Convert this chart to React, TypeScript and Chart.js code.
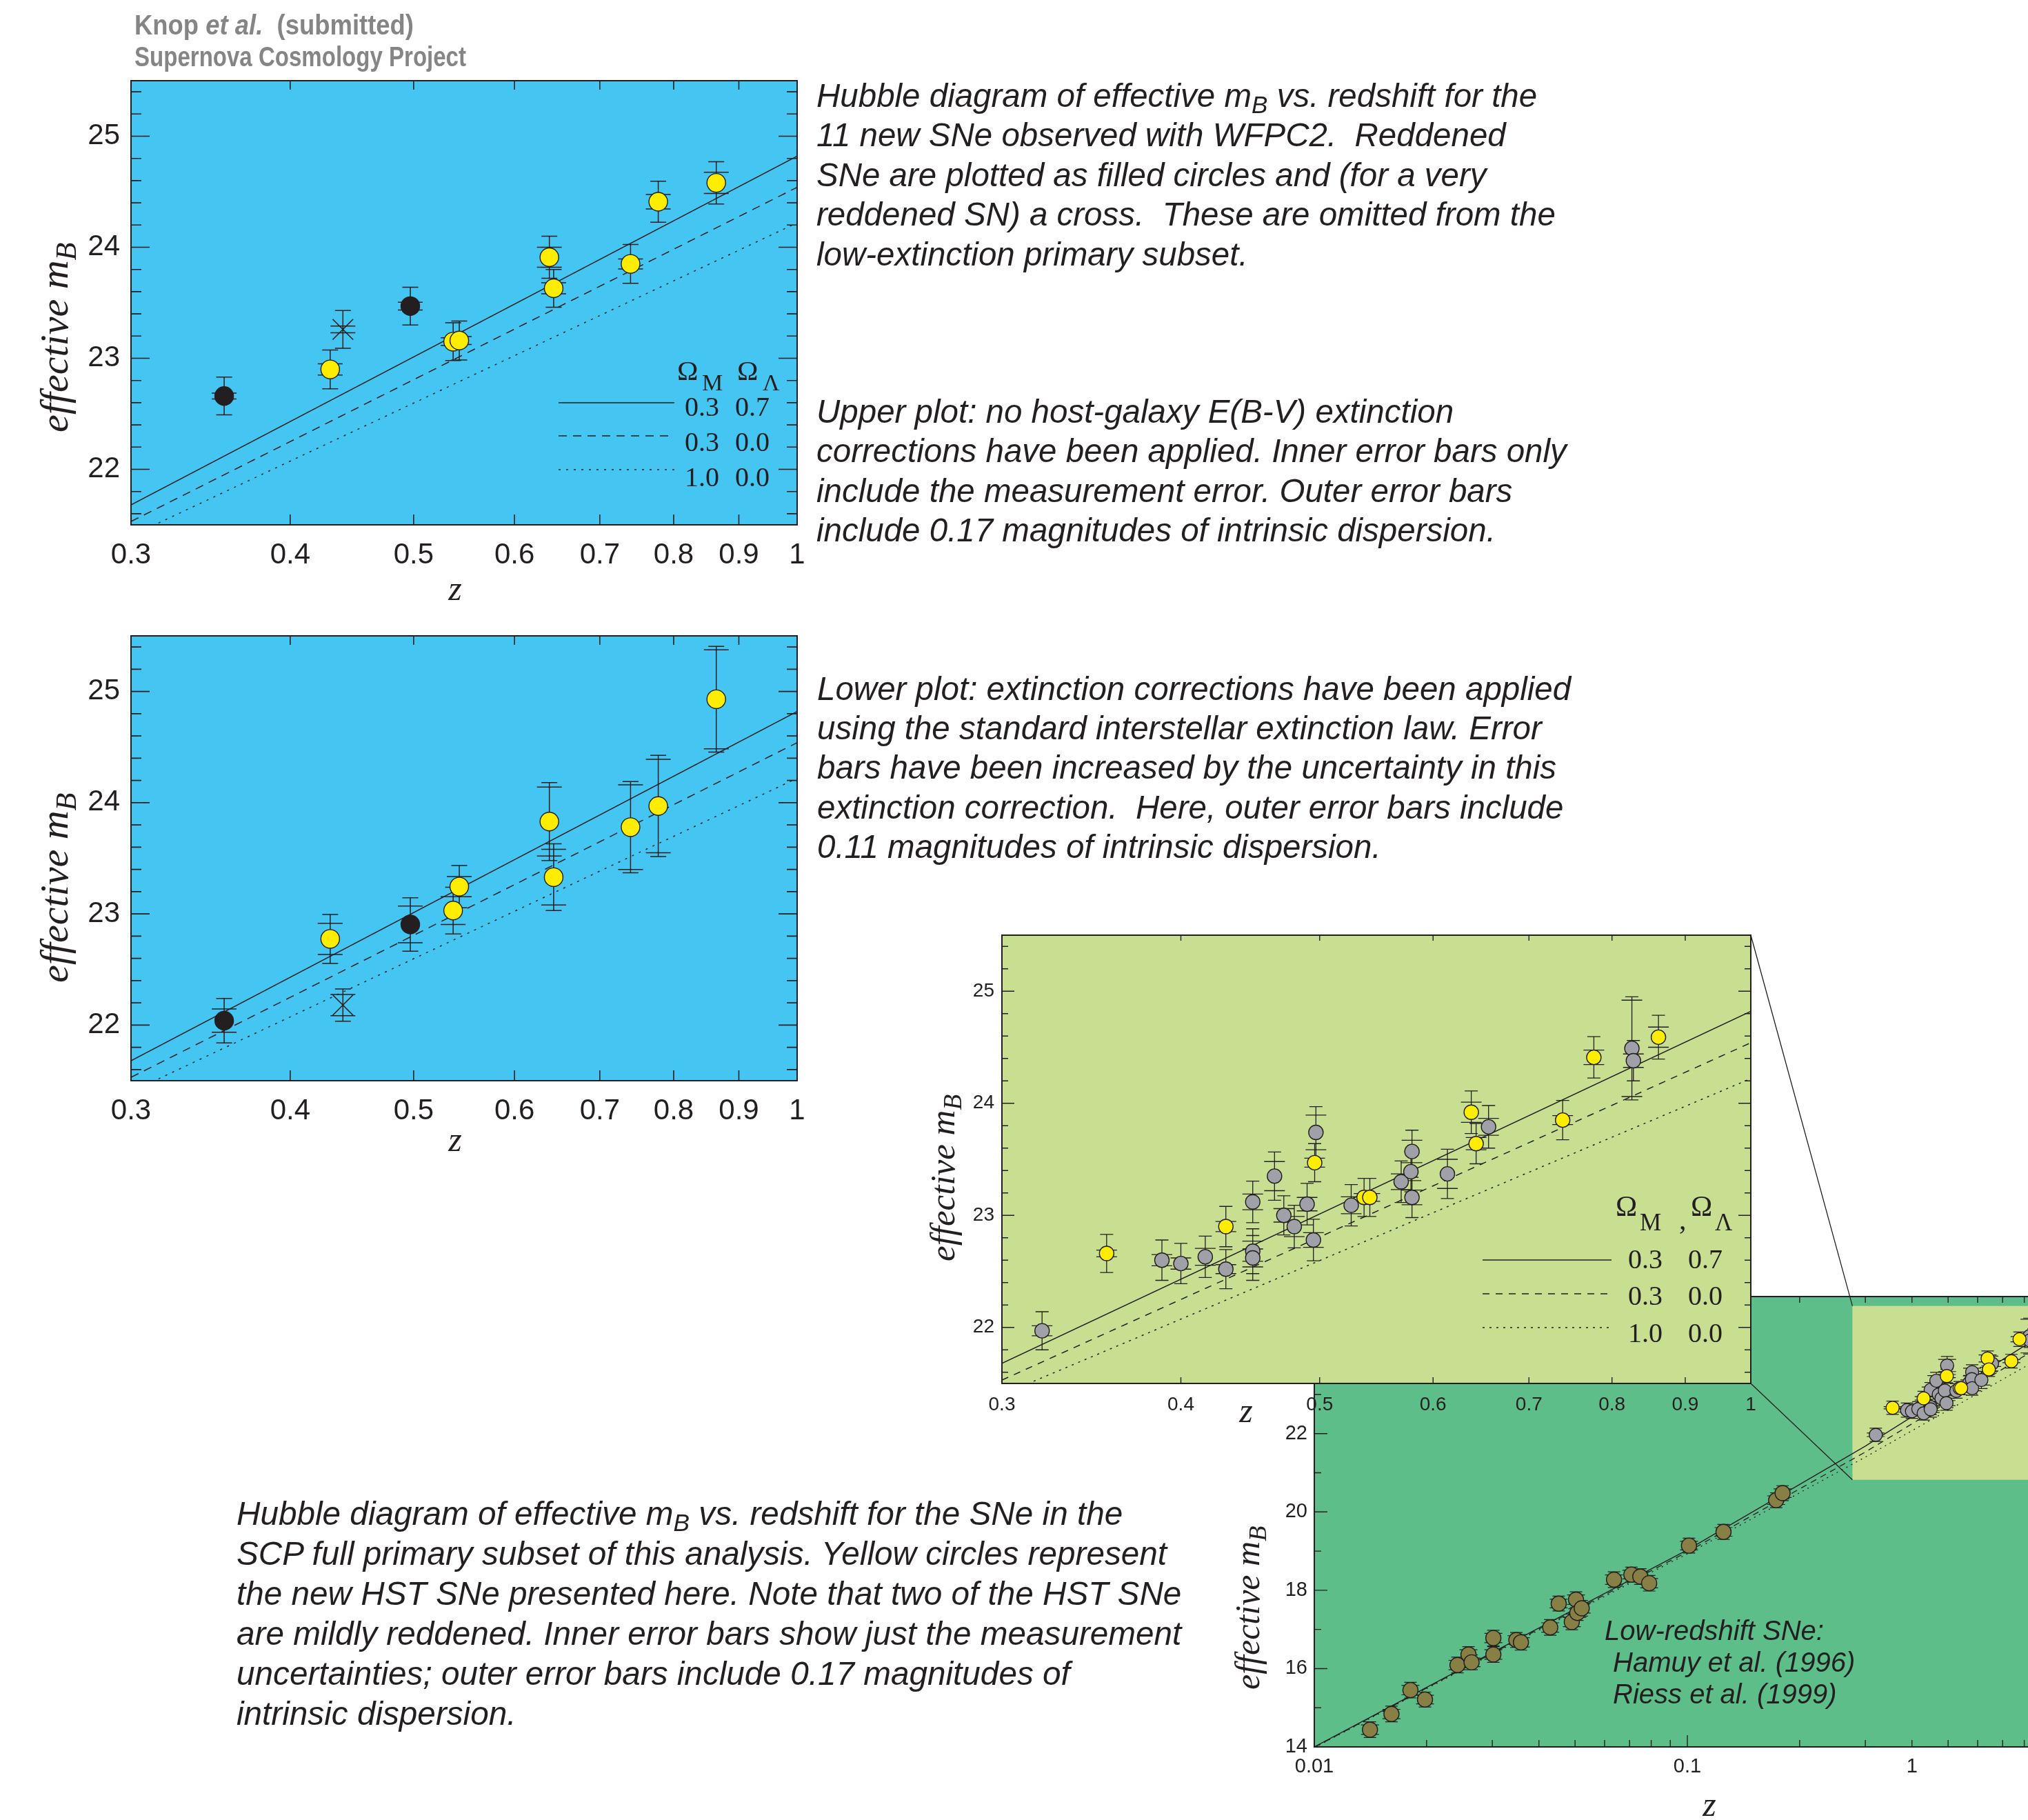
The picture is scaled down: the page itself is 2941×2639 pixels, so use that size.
import React, { useEffect, useRef } from 'react';
import { Chart, registerables } from 'chart.js';

Chart.register(...registerables);

const INK = '#231f20';
const SANS = '"Liberation Sans", Arial, Helvetica, sans-serif';
const SERIF = '"Liberation Serif", "Times New Roman", Times, serif';

const BLUE_BG = '#45c5f1';
const INSET_BG = '#c8de91';
const GREEN_BG = '#5ebe89';
const YELLOW = '#ffed00';
const BLACK_FILL = '#231f20';
const GRAY = '#a0a1a8';
const BROWN = '#877f43';

// ---------------- 11 new WFPC2 SNe (upper & lower panels) ----------------
const wfpcZ = [0.355, 0.43, 0.44, 0.497, 0.537, 0.543, 0.639, 0.644, 0.74, 0.778, 0.864];
const wfpcKind = ['reddened', 'normal', 'very', 'reddened', 'normal', 'normal', 'normal', 'normal', 'normal', 'normal', 'normal'];
const upperM = [22.66, 22.9, 23.26, 23.47, 23.15, 23.16, 23.91, 23.63, 23.85, 24.41, 24.58];
const upperInnerErr = [0.027, 0.05, 0.03, 0.035, 0.035, 0.035, 0.09, 0.05, 0.045, 0.065, 0.095];
const upperOuterErr = [0.17, 0.175, 0.17, 0.17, 0.17, 0.175, 0.19, 0.17, 0.175, 0.185, 0.19];
const lowerM = [22.04, 22.775, 22.18, 22.905, 23.03, 23.245, 23.83, 23.33, 23.78, 23.97, 24.93];
const lowerInnerErr = [0.105, 0.14, 0.095, 0.165, 0.125, 0.09, 0.31, 0.25, 0.38, 0.42, 0.445];
const lowerOuterErr = [0.2, 0.22, 0.145, 0.24, 0.21, 0.19, 0.35, 0.3, 0.41, 0.455, 0.475];

// ---------------- SCP full primary subset ----------------
const hstZ = [0.355, 0.43, 0.496, 0.537, 0.542, 0.638, 0.643, 0.739, 0.777, 0.862];
const hstM = [22.66, 22.9, 23.47, 23.16, 23.16, 23.92, 23.64, 23.85, 24.41, 24.59];
const hstInnerErr = [0.03, 0.045, 0.04, 0.035, 0.035, 0.09, 0.055, 0.04, 0.065, 0.09];
const hstOuterErr = [0.17, 0.18, 0.17, 0.17, 0.17, 0.19, 0.18, 0.175, 0.185, 0.195];

const scpZ = [0.32, 0.388, 0.4, 0.416, 0.43, 0.449, 0.449, 0.449, 0.465, 0.472, 0.48, 0.49, 0.495, 0.497, 0.526, 0.57, 0.58, 0.579, 0.58, 0.614, 0.656, 0.826, 0.828];
const scpM = [21.97, 22.6, 22.57, 22.63, 22.52, 23.12, 22.68, 22.62, 23.35, 23.0, 22.9, 23.1, 22.78, 23.74, 23.09, 23.3, 23.57, 23.39, 23.16, 23.37, 23.79, 24.49, 24.38];
const scpInnerErr = [0.045, 0.05, 0.05, 0.075, 0.04, 0.07, 0.09, 0.08, 0.13, 0.06, 0.09, 0.06, 0.065, 0.155, 0.075, 0.07, 0.1, 0.08, 0.065, 0.13, 0.075, 0.43, 0.06];
const scpOuterErr = [0.17, 0.18, 0.18, 0.185, 0.175, 0.185, 0.2, 0.2, 0.215, 0.175, 0.19, 0.185, 0.185, 0.23, 0.185, 0.185, 0.19, 0.18, 0.18, 0.22, 0.19, 0.46, 0.18];

// ---------------- Low-redshift SNe (Hamuy 1996, Riess 1999) ----------------
const lowZ = [0.0141, 0.0161, 0.0181, 0.0198, 0.0242, 0.0259, 0.0264, 0.0302, 0.0302, 0.0348, 0.0358, 0.0429, 0.0452, 0.049, 0.0503, 0.0507, 0.0521, 0.0636, 0.0708, 0.0748, 0.079, 0.101, 0.125, 0.173, 0.18];
const lowM = [14.44, 14.84, 15.45, 15.21, 16.09, 16.36, 16.16, 16.78, 16.36, 16.73, 16.67, 17.05, 17.66, 17.19, 17.76, 17.42, 17.54, 18.27, 18.4, 18.35, 18.18, 19.14, 19.49, 20.3, 20.48];
const lowInnerErr = [0.12, 0.12, 0.12, 0.11, 0.12, 0.12, 0.11, 0.12, 0.12, 0.11, 0.12, 0.12, 0.11, 0.12, 0.12, 0.11, 0.12, 0.12, 0.11, 0.12, 0.12, 0.11, 0.11, 0.11, 0.11];
const lowOuterErr = [0.2, 0.2, 0.2, 0.19, 0.2, 0.2, 0.19, 0.2, 0.2, 0.19, 0.2, 0.2, 0.19, 0.2, 0.2, 0.19, 0.2, 0.2, 0.19, 0.2, 0.2, 0.19, 0.19, 0.19, 0.19];

// ---------------- Cosmology curves ----------------
const curveZ = [0.3, 1.0];
const curveLambda = [21.68, 24.82]; // OmegaM 0.3, OmegaL 0.7
const curveOpen = [21.53, 24.54]; // 0.3, 0.0
const curveEdS = [21.4, 24.22]; // 1.0, 0.0
const wideCurveZ = [0.01, 0.03, 0.1, 0.3, 1.0];
const wideCurveLambda = [14.0, 16.41, 19.03, 21.68, 24.82];
const wideCurveOpen = [13.99, 16.39, 18.98, 21.53, 24.54];
const wideCurveEdS = [13.98, 16.37, 18.93, 21.4, 24.22];

// ---------------- Axes ----------------
const zTicks = [0.3, 0.4, 0.5, 0.6, 0.7, 0.8, 0.9, 1];
const zTickLabels = ['0.3', '0.4', '0.5', '0.6', '0.7', '0.8', '0.9', '1'];
const mTicks = [22, 23, 24, 25];
const wideZTicks = [0.01, 0.02, 0.03, 0.04, 0.05, 0.06, 0.07, 0.08, 0.09, 0.1, 0.2, 0.3, 0.4, 0.5, 0.6, 0.7, 0.8, 0.9, 1];
const wideZTickLabels = ['0.01', '', '', '', '', '', '', '', '', '0.1', '', '', '1', '', '', '', '', '', ''];
const wideMTicks = [14, 16, 18, 20, 22, 24];
const zoomBoxZ = [0.277, 1.0];
const zoomBoxM = [20.82, 25.26];

// ---------------- Layout (page pixels) ----------------
const UPPER_BOX = { left: 90, top: 90, w: 1110, h: 760 };
const LOWER_BOX = { left: 90, top: 895, w: 1110, h: 760 };
const INSET_BOX = { left: 1350, top: 1330, w: 1230, h: 730 };
const GREEN_BOX = { left: 1800, top: 1300, w: 1240, h: 1300 };

function minorValues(min: number, max: number, step: number, majors: number[]) {
  const out: number[] = [];
  const n0 = Math.ceil(min / step - 1e-9);
  const n1 = Math.floor(max / step + 1e-9);
  for (let n = n0; n <= n1; n++) {
    const v = +(n * step).toFixed(6);
    if (!majors.some((mj) => Math.abs(mj - v) < 1e-6)) out.push(v);
  }
  return out;
}

function pts(z: number[], m: number[]) {
  return z.map((v, i) => ({ x: v, y: m[i] }));
}

function curveDatasets(zs: number[], lam: number[], open: number[], eds: number[], dash: number[], dot: number[], lw: number) {
  const mk = (ms: number[], borderDash: number[]) => ({
    data: pts(zs, ms),
    showLine: true,
    pointRadius: 0,
    borderColor: INK,
    borderWidth: lw,
    borderDash,
    fill: false,
    order: 10,
  });
  return [mk(lam, []), mk(open, dash), mk(eds, dot)];
}

function markerDs(data: any[], color: string, r: number, order: number) {
  return {
    data,
    pointRadius: r,
    pointHoverRadius: r,
    pointBackgroundColor: color,
    pointBorderColor: INK,
    pointBorderWidth: 1.4,
    order,
  };
}

function wfpcDatasets(m: number[]) {
  const pick = (kind: string) => wfpcZ.map((z, i) => ({ x: z, y: m[i] })).filter((_, i) => wfpcKind[i] === kind);
  return [
    markerDs(pick('normal'), YELLOW, 13.5, 1),
    markerDs(pick('reddened'), BLACK_FILL, 13.5, 2),
    { data: pick('very'), pointStyle: 'crossRot', pointRadius: 21, pointBorderColor: INK, pointBorderWidth: 1.6, order: 0 },
    ...curveDatasets(curveZ, curveLambda, curveOpen, curveEdS, [12, 9], [3, 8], 1.5),
  ];
}

function buildPanel(canvas: HTMLCanvasElement, p: any) {
  const yMinor = minorValues(p.yMin, p.yMax, p.yMinorStep, p.yMajor);
  const frame = {
    id: 'panelFrame',
    beforeDraw(c: any) {
      const a = c.chartArea;
      const ctx = c.ctx;
      ctx.save();
      ctx.fillStyle = p.bg;
      ctx.fillRect(a.left, a.top, a.right - a.left, a.bottom - a.top);
      ctx.restore();
    },
    beforeDatasetsDraw(c: any) {
      if (p.beforeData) p.beforeData(c);
      const ctx = c.ctx;
      const a = c.chartArea;
      const xs = c.scales.x;
      const ys = c.scales.y;
      ctx.save();
      ctx.beginPath();
      ctx.rect(a.left, a.top, a.right - a.left, a.bottom - a.top);
      ctx.clip();
      ctx.strokeStyle = INK;
      ctx.lineWidth = p.errW;
      ctx.beginPath();
      for (const e of p.errs) {
        e.z.forEach((zv: number, i: number) => {
          const x = xs.getPixelForValue(zv);
          const oHi = ys.getPixelForValue(e.m[i] + e.outer[i]);
          const oLo = ys.getPixelForValue(e.m[i] - e.outer[i]);
          const iHi = ys.getPixelForValue(e.m[i] + e.inner[i]);
          const iLo = ys.getPixelForValue(e.m[i] - e.inner[i]);
          ctx.moveTo(x, oHi);
          ctx.lineTo(x, oLo);
          ctx.moveTo(x - e.capOut, oHi);
          ctx.lineTo(x + e.capOut, oHi);
          ctx.moveTo(x - e.capOut, oLo);
          ctx.lineTo(x + e.capOut, oLo);
          ctx.moveTo(x - e.capIn, iHi);
          ctx.lineTo(x + e.capIn, iHi);
          ctx.moveTo(x - e.capIn, iLo);
          ctx.lineTo(x + e.capIn, iLo);
        });
      }
      ctx.stroke();
      ctx.restore();
    },
    afterDatasetsDraw(c: any) {
      const ctx = c.ctx;
      const a = c.chartArea;
      const xs = c.scales.x;
      const ys = c.scales.y;
      ctx.save();
      ctx.strokeStyle = INK;
      ctx.lineWidth = p.tickW;
      ctx.beginPath();
      const yTick = (v: number, len: number) => {
        const y = ys.getPixelForValue(v);
        ctx.moveTo(a.left, y);
        ctx.lineTo(a.left + len, y);
        ctx.moveTo(a.right, y);
        ctx.lineTo(a.right - len, y);
      };
      p.yMajor.forEach((v: number) => yTick(v, p.lenYMajor));
      yMinor.forEach((v: number) => yTick(v, p.lenYMinor));
      p.xTicks.forEach((v: number) => {
        const x = xs.getPixelForValue(v);
        const len = p.xLong && p.xLong.includes(v) ? p.lenXLong : p.lenX;
        ctx.moveTo(x, a.bottom);
        ctx.lineTo(x, a.bottom - len);
        ctx.moveTo(x, a.top);
        ctx.lineTo(x, a.top + p.lenXTop);
      });
      ctx.stroke();
      ctx.lineWidth = p.frameW;
      ctx.strokeRect(a.left, a.top, a.right - a.left, a.bottom - a.top);
      ctx.restore();
      if (p.afterAll) p.afterAll(c);
    },
  };

  return new Chart(canvas, {
    type: 'scatter',
    data: { datasets: p.datasets },
    options: {
      responsive: false,
      maintainAspectRatio: false,
      animation: false,
      devicePixelRatio: 1,
      events: [],
      layout: { padding: { top: p.padTop, right: p.padRight, left: 0, bottom: 0 } },
      plugins: { legend: { display: false }, tooltip: { enabled: false } },
      scales: {
        x: {
          type: 'logarithmic',
          min: p.xMin,
          max: p.xMax,
          bounds: 'data',
          position: 'bottom',
          grid: { display: false, drawTicks: false },
          border: { display: false },
          ticks: {
            autoSkip: false,
            maxRotation: 0,
            minRotation: 0,
            padding: p.xPad,
            color: INK,
            font: { family: SANS, size: p.tickFont },
            callback: (_v: any, i: number) => p.xLabels[i] ?? '',
          },
          afterBuildTicks: (s: any) => {
            s.ticks = p.xTicks.map((v: number) => ({ value: v }));
          },
          afterFit: (s: any) => {
            s.height = p.axisH;
            s.paddingLeft = 0;
            s.paddingRight = 0;
          },
        },
        y: {
          type: 'linear',
          min: p.yMin,
          max: p.yMax,
          bounds: 'data',
          position: 'left',
          grid: { display: false, drawTicks: false },
          border: { display: false },
          ticks: {
            autoSkip: false,
            padding: p.yPad,
            color: INK,
            font: { family: SANS, size: p.tickFont },
            callback: (v: any) => String(v),
          },
          afterBuildTicks: (s: any) => {
            s.ticks = p.yMajor.map((v: number) => ({ value: v }));
          },
          afterFit: (s: any) => {
            s.width = p.axisW;
            s.paddingTop = 0;
            s.paddingBottom = 0;
          },
        },
      },
    },
    plugins: [frame],
  } as any);
}

function blueSpec(m: number[], inner: number[], outer: number[], axisH: number) {
  return {
    axisW: 100, axisH, padTop: 27, padRight: 44,
    xMin: 0.3, xMax: 1, yMin: 21.5, yMax: 25.5,
    xTicks: zTicks, xLabels: zTickLabels, yMajor: mTicks, yMinorStep: 0.2,
    tickFont: 42, xPad: 19, yPad: 16, bg: BLUE_BG,
    lenYMajor: 27, lenYMinor: 15, lenX: 15, lenXTop: 13,
    frameW: 2, tickW: 1.6, errW: 1.5,
    datasets: wfpcDatasets(m),
    errs: [{ z: wfpcZ, m, inner, outer, capIn: 18, capOut: 11.5 }],
  };
}

export default function App() {
  const upperRef = useRef<HTMLCanvasElement>(null);
  const lowerRef = useRef<HTMLCanvasElement>(null);
  const insetRef = useRef<HTMLCanvasElement>(null);
  const greenRef = useRef<HTMLCanvasElement>(null);

  useEffect(() => {
    const charts: Chart[] = [];
    charts.push(buildPanel(upperRef.current!, blueSpec(upperM, upperInnerErr, upperOuterErr, 89)));
    charts.push(buildPanel(lowerRef.current!, blueSpec(lowerM, lowerInnerErr, lowerOuterErr, 88)));

    const inset = buildPanel(insetRef.current!, {
      axisW: 103, axisH: 54, padTop: 26, padRight: 41,
      xMin: 0.3, xMax: 1, yMin: 21.5, yMax: 25.5,
      xTicks: zTicks, xLabels: zTickLabels, yMajor: mTicks, yMinorStep: 0.2,
      tickFont: 28, xPad: 14, yPad: 11, bg: INSET_BG,
      lenYMajor: 18, lenYMinor: 9, lenX: 9, lenXTop: 8,
      frameW: 2, tickW: 1.4, errW: 1.3,
      datasets: [
        markerDs(pts(hstZ, hstM), YELLOW, 10.5, 1),
        markerDs(pts(scpZ, scpM), GRAY, 10.5, 3),
        ...curveDatasets(curveZ, curveLambda, curveOpen, curveEdS, [10, 9], [3, 7], 1.5),
      ],
      errs: [
        { z: scpZ, m: scpM, inner: scpInnerErr, outer: scpOuterErr, capIn: 15, capOut: 9.5 },
        { z: hstZ, m: hstM, inner: hstInnerErr, outer: hstOuterErr, capIn: 15, capOut: 9.5 },
      ],
    });
    charts.push(inset);

    const green = buildPanel(greenRef.current!, {
      axisW: 106, axisH: 67, padTop: 580, padRight: 52,
      xMin: 0.01, xMax: 1, yMin: 14, yMax: 25.5,
      xTicks: wideZTicks, xLabels: wideZTickLabels, xLong: [0.1], yMajor: wideMTicks, yMinorStep: 1,
      tickFont: 29, xPad: 12, yPad: 10, bg: GREEN_BG,
      lenYMajor: 19, lenYMinor: 10, lenX: 10, lenXLong: 17, lenXTop: 9,
      frameW: 2, tickW: 1.4, errW: 1.2,
      datasets: [
        markerDs(pts(hstZ, hstM), YELLOW, 9.5, 1),
        markerDs(pts(scpZ, scpM), GRAY, 9.5, 3),
        markerDs(pts(lowZ, lowM), BROWN, 11, 4),
        ...curveDatasets(wideCurveZ, wideCurveLambda, wideCurveOpen, wideCurveEdS, [9, 7], [2, 6], 1.3),
      ],
      errs: [
        { z: lowZ, m: lowM, inner: lowInnerErr, outer: lowOuterErr, capIn: 13, capOut: 9 },
        { z: scpZ, m: scpM, inner: scpInnerErr, outer: scpOuterErr, capIn: 13, capOut: 9 },
        { z: hstZ, m: hstM, inner: hstInnerErr, outer: hstOuterErr, capIn: 13, capOut: 9 },
      ],
      beforeData: (c: any) => {
        const ctx = c.ctx;
        const a = c.chartArea;
        const xs = c.scales.x;
        const ys = c.scales.y;
        const x0 = xs.getPixelForValue(zoomBoxZ[0]);
        const x1 = xs.getPixelForValue(zoomBoxZ[1]);
        const y0 = ys.getPixelForValue(zoomBoxM[1]);
        const y1 = ys.getPixelForValue(zoomBoxM[0]);
        ctx.save();
        ctx.beginPath();
        ctx.rect(a.left, a.top, a.right - a.left, a.bottom - a.top);
        ctx.clip();
        ctx.fillStyle = INSET_BG;
        ctx.fillRect(x0, y0, x1 - x0, y1 - y0);
        ctx.restore();
      },
      afterAll: (c: any) => {
        const ia = inset.chartArea;
        if (!ia) return;
        const ctx = c.ctx;
        const xs = c.scales.x;
        const ys = c.scales.y;
        const dx = INSET_BOX.left - GREEN_BOX.left;
        const dy = INSET_BOX.top - GREEN_BOX.top;
        const rx = xs.getPixelForValue(zoomBoxZ[0]);
        const ryTop = ys.getPixelForValue(zoomBoxM[1]);
        const ryBot = ys.getPixelForValue(zoomBoxM[0]);
        ctx.save();
        ctx.strokeStyle = INK;
        ctx.lineWidth = 1.3;
        ctx.beginPath();
        ctx.moveTo(ia.right + dx, ia.top + dy);
        ctx.lineTo(rx, ryTop);
        ctx.moveTo(ia.right + dx, ia.bottom + dy);
        ctx.lineTo(rx, ryBot);
        ctx.stroke();
        ctx.restore();
      },
    });
    charts.push(green);

    return () => charts.forEach((c) => c.destroy());
  }, []);

  const canvasStyle = (b: any): React.CSSProperties => ({
    position: 'absolute', left: b.left, top: b.top, width: b.w, height: b.h, display: 'block',
  });

  const para = (x: number, y0: number, lh: number, size: number, lines: string[]) =>
    lines.map((ln, i) => {
      const parts = ln.split('{B}');
      return (
        <text key={i} x={x} y={y0 + i * lh} fontFamily={SANS} fontStyle="italic" fontSize={size} fill={INK} style={{ whiteSpace: 'pre' }}>
          {parts.length === 2 ? (
            <>
              {parts[0]}
              <tspan dy={9} fontSize={size * 0.74}>B</tspan>
              <tspan dy={-9}>{parts[1]}</tspan>
            </>
          ) : (
            ln
          )}
        </text>
      );
    });

  const yTitle = (x: number, y: number, size: number, key: string) => (
    <text key={key} transform={`translate(${x},${y}) rotate(-90)`} fontFamily={SERIF} fontStyle="italic" fontSize={size} fill={INK}>
      effective m<tspan dy={size * 0.2} fontSize={size * 0.73}>B</tspan>
    </text>
  );

  const zTitle = (x: number, y: number, key: string) => (
    <text key={key} x={x} y={y} textAnchor="middle" fontFamily={SERIF} fontStyle="italic" fontSize={50} fill={INK}>z</text>
  );

  const legendRow = (x1: number, x2: number, ly: number, tx1: number, tx2: number, ty: number, a: string, b: string, dash: string | undefined, key: string) => (
    <g key={key}>
      <line x1={x1} x2={x2} y1={ly} y2={ly} stroke={INK} strokeWidth={1.5} strokeDasharray={dash} />
      <text x={tx1} y={ty} fontFamily={SERIF} fontSize={40} fill={INK}>{a}</text>
      <text x={tx2} y={ty} fontFamily={SERIF} fontSize={40} fill={INK}>{b}</text>
    </g>
  );

  return (
    <div style={{ position: 'fixed', left: 0, top: 0, width: 2941, height: 2639, overflow: 'hidden', background: '#ffffff' }}>
      <canvas ref={upperRef} width={UPPER_BOX.w} height={UPPER_BOX.h} style={canvasStyle(UPPER_BOX)} />
      <canvas ref={lowerRef} width={LOWER_BOX.w} height={LOWER_BOX.h} style={canvasStyle(LOWER_BOX)} />
      <canvas ref={greenRef} width={GREEN_BOX.w} height={GREEN_BOX.h} style={canvasStyle(GREEN_BOX)} />
      <canvas ref={insetRef} width={INSET_BOX.w} height={INSET_BOX.h} style={canvasStyle(INSET_BOX)} />
      <svg width={2941} height={2639} style={{ position: 'absolute', left: 0, top: 0, pointerEvents: 'none' }}>
        <text x={195} y={50} fontFamily={SANS} fontWeight="bold" fontSize={40} fill="#858585" textLength={405} lengthAdjust="spacingAndGlyphs" style={{ whiteSpace: 'pre' }}>
          Knop <tspan fontStyle="italic">et al.</tspan>  (submitted)
        </text>
        <text x={195} y={96} fontFamily={SANS} fontWeight="bold" fontSize={40} fill="#858585" textLength={481} lengthAdjust="spacingAndGlyphs">
          Supernova Cosmology Project
        </text>

        {para(1184, 155, 57.4, 47.5, [
          'Hubble diagram of effective m{B} vs. redshift for the',
          '11 new SNe observed with WFPC2.  Reddened',
          'SNe are plotted as filled circles and (for a very',
          'reddened SN) a cross.  These are omitted from the',
          'low-extinction primary subset.',
        ])}
        {para(1184, 613, 57.4, 47.5, [
          'Upper plot: no host-galaxy E(B-V) extinction',
          'corrections have been applied. Inner error bars only',
          'include the measurement error. Outer error bars',
          'include 0.17 magnitudes of intrinsic dispersion.',
        ])}
        {para(1185, 1015, 57.2, 47.5, [
          'Lower plot: extinction corrections have been applied',
          'using the standard interstellar extinction law. Error',
          'bars have been increased by the uncertainty in this',
          'extinction correction.  Here, outer error bars include',
          '0.11 magnitudes of intrinsic dispersion.',
        ])}
        {para(343, 2211, 58, 47.7, [
          'Hubble diagram of effective m{B} vs. redshift for the SNe in the',
          'SCP full primary subset of this analysis. Yellow circles represent',
          'the new HST SNe presented here. Note that two of the HST SNe',
          'are mildly reddened. Inner error bars show just the measurement',
          'uncertainties; outer error bars include 0.17 magnitudes of',
          'intrinsic dispersion.',
        ])}

        {yTitle(98, 627, 58, 'yu')}
        {yTitle(98, 1425, 58, 'yl')}
        {yTitle(1384, 1829, 51, 'yi')}
        {yTitle(1826, 2450, 50, 'yg')}
        {zTitle(660, 870, 'zu')}
        {zTitle(660, 1669, 'zl')}
        {zTitle(1807, 2062, 'zi')}
        {zTitle(2479, 2633, 'zg')}

        {/* upper legend */}
        <text x={982} y={551} fontFamily={SERIF} fontSize={41} fill={INK}>Ω</text>
        <text x={1018} y={566} fontFamily={SERIF} fontSize={34} fill={INK}>M</text>
        <text x={1069} y={551} fontFamily={SERIF} fontSize={41} fill={INK}>Ω</text>
        <text x={1106} y={566} fontFamily={SERIF} fontSize={34} fill={INK}>Λ</text>
        {legendRow(810, 978, 584, 993, 1066, 603, '0.3', '0.7', undefined, 'u1')}
        {legendRow(810, 978, 632, 993, 1066, 654, '0.3', '0.0', '12 9', 'u2')}
        {legendRow(810, 978, 681, 993, 1066, 705, '1.0', '0.0', '3 8', 'u3')}

        {/* inset legend */}
        <text x={2343} y={1763} fontFamily={SERIF} fontSize={42} fill={INK}>Ω</text>
        <text x={2378} y={1784} fontFamily={SERIF} fontSize={35} fill={INK}>M</text>
        <text x={2435} y={1782} fontFamily={SERIF} fontSize={42} fill={INK}>,</text>
        <text x={2452} y={1763} fontFamily={SERIF} fontSize={42} fill={INK}>Ω</text>
        <text x={2487} y={1784} fontFamily={SERIF} fontSize={35} fill={INK}>Λ</text>
        {legendRow(2150, 2337, 1827, 2361, 2448, 1839, '0.3', '0.7', undefined, 'i1')}
        {legendRow(2150, 2337, 1876, 2361, 2448, 1892, '0.3', '0.0', '10 9', 'i2')}
        {legendRow(2150, 2337, 1925, 2361, 2448, 1946, '1.0', '0.0', '3 7', 'i3')}

        <text x={2327} y={2378} fontFamily={SANS} fontStyle="italic" fontSize={40} fill={INK}>Low-redshift SNe:</text>
        <text x={2339} y={2424} fontFamily={SANS} fontStyle="italic" fontSize={40} fill={INK}>Hamuy et al. (1996)</text>
        <text x={2339} y={2470} fontFamily={SANS} fontStyle="italic" fontSize={40} fill={INK}>Riess et al. (1999)</text>
      </svg>
    </div>
  );
}
